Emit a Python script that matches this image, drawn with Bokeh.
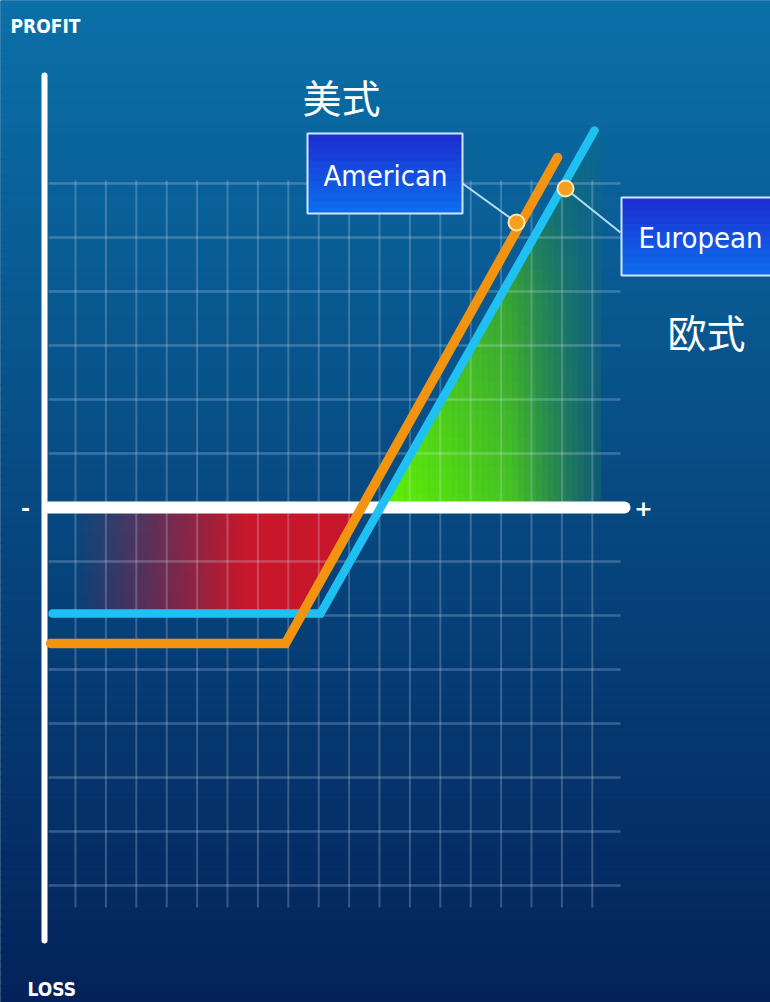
import numpy as np
from bokeh.plotting import figure
from bokeh.models import ColumnDataSource, Range1d
from bokeh.core.properties import value
from bokeh.embed import file_html
from bokeh.resources import INLINE

# ---------------- data ----------------
# payoff curves (x: underlying price units, y: profit units; 0 = break-even line)
american_x = [50, 285, 557]
american_y = [-136, -136, 350]
european_x = [52, 320, 594]
european_y = [-106, -106, 377]

axis_labels = ["PROFIT", "LOSS", "-", "+"]
series_labels = ["American", "European"]
cn_labels = ["美式", "欧式"]
marker_x = [516, 565]          # where the label connectors touch the curves
marker_y = [285, 319]

# ---------------- helpers ----------------
def hex2rgb(h):
    h = h.lstrip("#")
    return tuple(int(h[i:i + 2], 16) for i in (0, 2, 4))

def rgb2hex(c):
    return "#%02x%02x%02x" % tuple(int(round(max(0, min(255, v)))) for v in c)

def lerp(c1, c2, t):
    t = max(0.0, min(1.0, t))
    return tuple(a + (b - a) * t for a, b in zip(c1, c2))

BG_TOP = hex2rgb("#0b70a8")
BG_BOT = hex2rgb("#04225a")
Y0, Y1 = -495, 507

def bg(y):
    return lerp(BG_BOT, BG_TOP, (y - Y0) / (Y1 - Y0))

def clip(poly, xmin, xmax, ymin, ymax):
    def clip_edge(pts, inside, inter):
        out = []
        n = len(pts)
        for i in range(n):
            cur, prev = pts[i], pts[i - 1]
            if inside(cur):
                if not inside(prev):
                    out.append(inter(prev, cur))
                out.append(cur)
            elif inside(prev):
                out.append(inter(prev, cur))
        return out

    def ix(xc):
        return lambda a, b: (xc, a[1] + (b[1] - a[1]) * (xc - a[0]) / (b[0] - a[0]))

    def iy(yc):
        return lambda a, b: (a[0] + (b[0] - a[0]) * (yc - a[1]) / (b[1] - a[1]), yc)

    pts = poly
    for inside, inter in [
        (lambda p: p[0] >= xmin, ix(xmin)),
        (lambda p: p[0] <= xmax, ix(xmax)),
        (lambda p: p[1] >= ymin, iy(ymin)),
        (lambda p: p[1] <= ymax, iy(ymax)),
    ]:
        if not pts:
            break
        pts = clip_edge(pts, inside, inter)
    return pts

# ---------------- figure ----------------
p = figure(width=770, height=1002, x_range=Range1d(0, 770), y_range=Range1d(Y0, Y1),
           output_backend="svg", toolbar_location=None, min_border=0,
           x_axis_type=None, y_axis_type=None)
p.grid.visible = False
p.outline_line_color = None
p.background_fill_color = rgb2hex(bg(0))
p.border_fill_color = rgb2hex(bg(0))

# background vertical gradient
edges = np.linspace(Y0, Y1, 121)
bsrc = ColumnDataSource(dict(bottom=edges[:-1], top=edges[1:],
                             color=[rgb2hex(bg((a + b) / 2)) for a, b in zip(edges[:-1], edges[1:])]))
p.quad(left=0, right=770, bottom="bottom", top="top", fill_color="color",
       line_color="color", line_width=1, source=bsrc)

# slopes
m_am = (american_y[2] - american_y[1]) / (american_x[2] - american_x[1])
m_eu = (european_y[2] - european_y[1]) / (european_x[2] - european_x[1])
def x_am(y):
    return american_x[1] + (y - american_y[1]) / m_am
def x_eu(y):
    return european_x[1] + (y - european_y[1]) / m_eu

# red (loss) region: below break-even, above european floor, left of american curve
red_poly = [(48, european_y[0]), (x_am(european_y[0]), european_y[0]), (x_am(0), 0), (48, 0)]
RED = hex2rgb("#c8162a")
rxs, rys, rcol = [], [], []
for a in np.arange(48, 362, 4):
    for yb in np.arange(european_y[0], 0, 20):
        pts = clip(red_poly, a, a + 4, yb, yb + 20)
        if len(pts) < 3:
            continue
        cx = a + 2
        cy = yb + 10
        t = ((cx - 75) / 170.0)
        t = max(0, min(1, t)) ** 1.0
        col = lerp(bg(cy), RED, t)
        rxs.append([q[0] for q in pts]); rys.append([q[1] for q in pts]); rcol.append(rgb2hex(col))
p.patches(xs="xs", ys="ys", fill_color="c", line_color="c", line_width=0.8,
          source=ColumnDataSource(dict(xs=rxs, ys=rys, c=rcol)))

# green (profit) region: above break-even, right of european curve
xg_end = european_x[2] + 6
green_poly = [(x_eu(0), 0), (xg_end, 0), (xg_end, european_y[1] + (xg_end - european_x[1]) * m_eu)]
BRIGHT = hex2rgb("#62f402")
DARK = hex2rgb("#1f7a50")
gxs, gys, gcol = [], [], []
gx0 = x_eu(0)
for a in np.arange(gx0, xg_end, 6):
    for yb in np.arange(0, european_y[2] + 30, 14):
        pts = clip(green_poly, a, a + 6, yb, yb + 14)
        if len(pts) < 3:
            continue
        cx = a + 3
        cy = yb + 7
        t = (cx - gx0) / (xg_end - gx0)
        s = cy / european_y[2]
        k = 0.65 * t + 0.5 * s
        col = lerp(BRIGHT, DARK, k)
        alpha = 1.0 - 0.8 * max(0.0, (t - 0.6) / 0.4)
        alpha *= 1.0 - 0.5 * max(0.0, (s - 0.6) / 0.4)
        col = lerp(bg(cy), col, alpha)
        gxs.append([q[0] for q in pts]); gys.append([q[1] for q in pts]); gcol.append(rgb2hex(col))
p.patches(xs="xs", ys="ys", fill_color="c", line_color="c", line_width=0.8,
          source=ColumnDataSource(dict(xs=gxs, ys=gys, c=gcol)))

# grid
vx = np.arange(75, 600, 30.4)
p.segment(x0=vx, y0=[327] * len(vx), x1=vx, y1=[-400] * len(vx),
          line_color="#d8ecff", line_alpha=0.24, line_width=2)
hy = [v for v in np.arange(-378, 330, 54) if v != 0]
p.segment(x0=[48] * len(hy), y0=hy, x1=[620] * len(hy), y1=hy,
          line_color="#d8ecff", line_alpha=0.24, line_width=2.5)

# axes (white)
p.line(x=[44, 44], y=[432, -433], line_color="white", line_width=6, line_cap="round")
p.line(x=[48, 624], y=[0, 0], line_color="white", line_width=12, line_cap="round")

# connectors
p.segment(x0=[462, 565], y0=[324, 319], x1=[516, 620], y1=[285, 275],
          line_color="#b8dcf2", line_width=2)

# payoff curves
p.line(x=european_x, y=european_y, line_color="#1fc0f2", line_width=8.5,
       line_join="miter", line_cap="round")
p.line(x=american_x, y=american_y, line_color="#f39410", line_width=9.5,
       line_join="miter", line_cap="round")

# markers
p.scatter(x=marker_x, y=marker_y, size=16, fill_color="#f5a020",
          line_color="#ffe6b0", line_width=2)

# label boxes with vertical gradient
BOX_TOP = hex2rgb("#1a30d2")
BOX_BOT = hex2rgb("#0e6cec")
def box(x0, x1, y0, y1):
    e = np.linspace(y0, y1, 13)
    cols = [rgb2hex(lerp(BOX_BOT, BOX_TOP, i / 11)) for i in range(12)]
    p.quad(left=x0, right=x1, bottom=e[:-1], top=e[1:], fill_color=cols, line_color=cols, line_width=1)
    p.quad(left=x0, right=x1, bottom=y0, top=y1, fill_color=None, line_color="#cfe6ff", line_width=2)

box(307, 462, 294, 374)
box(621, 790, 232, 310)

NARROW = "'DejaVu Sans Condensed', 'DejaVu Sans', sans-serif"
p.text(x=[385], y=[332], text=[series_labels[0]], text_font=value(NARROW), text_font_size="29px",
       text_color="white", text_align="center", text_baseline="middle")
p.text(x=[700], y=[270], text=[series_labels[1]], text_font=value(NARROW), text_font_size="29px",
       text_color="white", text_align="center", text_baseline="middle")

p.text(x=[302, 667], y=[412, 177], text=cn_labels, text_font=value("Noto Sans CJK SC"),
       text_font_size="39px", text_color="white", text_align="left", text_baseline="middle")

p.text(x=[10, 27], y=[482, -481], text=axis_labels[:2], text_font=value(NARROW),
       text_font_size="19px", text_font_style="bold", text_color="white",
       text_align="left", text_baseline="middle")
p.text(x=[25, 643], y=[0, 0], text=axis_labels[2:], text_font=value("DejaVu Sans"),
       text_font_size="22px", text_font_style="bold", text_color="white",
       text_align="center", text_baseline="middle")

open("out.html", "w").write(file_html(p, INLINE))
